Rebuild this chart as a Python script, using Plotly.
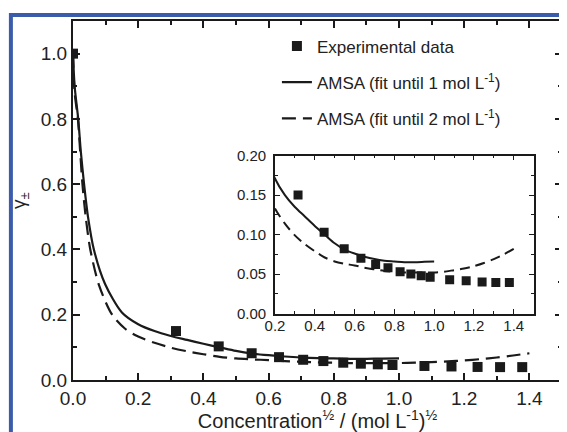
import plotly.graph_objects as go

# Experimental data (x = sqrt(concentration), y = mean activity coefficient)
exp_x = [0.0, 0.316, 0.447, 0.548, 0.632, 0.706, 0.768, 0.829, 0.883, 0.935, 0.980,
         1.078, 1.161, 1.241, 1.310, 1.378]
exp_y = [1.0, 0.150, 0.103, 0.082, 0.070, 0.062, 0.058, 0.053, 0.050, 0.048, 0.046,
         0.043, 0.0415, 0.040, 0.0395, 0.0395]

# AMSA fit until 1 mol/L (solid)
fit1_x = [0.0, 0.005, 0.016, 0.024, 0.034, 0.046, 0.064, 0.098, 0.150, 0.20, 0.25,
          0.30, 0.35, 0.40, 0.45, 0.50, 0.55, 0.60, 0.65, 0.70, 0.75, 0.80, 0.85,
          0.90, 0.95, 1.00]
fit1_y = [1.0, 0.90, 0.80, 0.70, 0.60, 0.50, 0.40, 0.295, 0.207, 0.171, 0.150,
          0.135, 0.123, 0.111, 0.100, 0.089, 0.081, 0.076, 0.072, 0.069, 0.067, 0.066, 0.065,
          0.065, 0.0655, 0.066]

# AMSA fit until 2 mol/L (dashed)
fit2_x = [0.0, 0.005, 0.015, 0.022, 0.029, 0.039, 0.053, 0.080, 0.120, 0.16, 0.20, 0.25,
          0.30, 0.35, 0.40, 0.45, 0.50, 0.55, 0.60, 0.65, 0.70, 0.75, 0.80, 0.85,
          0.90, 0.95, 1.00, 1.05, 1.10, 1.15, 1.20, 1.25, 1.30, 1.35, 1.40]
fit2_y = [1.0, 0.88, 0.80, 0.70, 0.60, 0.50, 0.40, 0.29, 0.200, 0.157, 0.133, 0.114,
          0.099, 0.088, 0.079, 0.071, 0.066, 0.063, 0.061, 0.058, 0.056, 0.054, 0.053, 0.052,
          0.052, 0.052, 0.052, 0.053, 0.055, 0.057, 0.060, 0.064, 0.069, 0.075, 0.082]

INK = "#1a1a1a"
FONT = "Liberation Sans, Arial, sans-serif"

fig = go.Figure()

# main plot
fig.add_trace(go.Scatter(x=exp_x, y=exp_y, mode="markers", name="Experimental data",
                         marker=dict(symbol="square", size=10, color=INK),
                         legendgroup="a"))
fig.add_trace(go.Scatter(x=fit1_x, y=fit1_y, mode="lines",
                         name="AMSA (fit until 1 mol L<sup>-1</sup>)",
                         line=dict(color=INK, width=2.2, shape="spline", smoothing=0.8),
                         legendgroup="b"))
fig.add_trace(go.Scatter(x=fit2_x, y=fit2_y, mode="lines",
                         name="AMSA (fit until 2 mol L<sup>-1</sup>)",
                         line=dict(color=INK, width=2.2, dash="14px,7px", shape="spline",
                                   smoothing=0.8),
                         legendgroup="c"))

# inset
fig.add_trace(go.Scatter(x=exp_x, y=exp_y, mode="markers", showlegend=False,
                         marker=dict(symbol="square", size=9, color=INK),
                         xaxis="x2", yaxis="y2"))
fig.add_trace(go.Scatter(x=fit1_x, y=fit1_y, mode="lines", showlegend=False,
                         line=dict(color=INK, width=2, shape="spline", smoothing=0.8),
                         xaxis="x2", yaxis="y2"))
fig.add_trace(go.Scatter(x=fit2_x, y=fit2_y, mode="lines", showlegend=False,
                         line=dict(color=INK, width=2, dash="10px,6px", shape="spline",
                                   smoothing=0.8),
                         xaxis="x2", yaxis="y2"))

axis_common = dict(showline=True, linecolor=INK, mirror="ticks", ticks="inside",
                   tickcolor=INK, showgrid=False, zeroline=False, automargin=False)

fig.update_layout(
    width=559, height=424,
    margin=dict(l=65, r=5, t=13, b=52),
    paper_bgcolor="white", plot_bgcolor="white",
    font=dict(family=FONT, color="#222"),
    xaxis=dict(**axis_common, range=[0, 1.5], dtick=0.2, tick0=0, tickformat=".1f",
               linewidth=2, ticklen=7, tickwidth=1.5,
               minor=dict(dtick=0.1, ticklen=4, tickwidth=1.5, ticks="inside", tickcolor=INK),
               tickfont=dict(size=19),
               title=dict(text="Concentration<sup>½</sup> / (mol L<sup>-1</sup>)<sup>½</sup>",
                          font=dict(size=20), standoff=2)),
    yaxis=dict(**axis_common, range=[0, 1.1], dtick=0.2, tick0=0, tickformat=".1f",
               linewidth=2, ticklen=7, tickwidth=1.5,
               minor=dict(dtick=0.1, ticklen=4, tickwidth=1.5, ticks="inside", tickcolor=INK),
               tickfont=dict(size=19),
               title=dict(text="γ<sub>±</sub>", font=dict(size=19), standoff=10)),
    xaxis2=dict(**axis_common, domain=[0.413, 0.942], anchor="y2", range=[0.2, 1.5],
                dtick=0.2, tick0=0.2, tickformat=".1f", linewidth=1.5, ticklen=5,
                tickwidth=1.2,
                minor=dict(dtick=0.1, ticklen=3, tickwidth=1.2, ticks="inside", tickcolor=INK),
                tickfont=dict(size=15), ticklabelstandoff=-2),
    yaxis2=dict(**axis_common, domain=[0.185, 0.625], anchor="x2", range=[0, 0.2],
                dtick=0.05, tick0=0, tickformat=".2f", linewidth=1.5, ticklen=5,
                tickwidth=1.2,
                minor=dict(dtick=0.025, ticklen=3, tickwidth=1.2, ticks="inside", tickcolor=INK),
                tickfont=dict(size=15), ticklabelstandoff=4),
    legend=dict(x=0.417, y=0.979, xanchor="left", yanchor="top",
                bgcolor="rgba(0,0,0,0)", font=dict(size=17, color="#222"),
                traceorder="grouped", tracegroupgap=11),
    shapes=[dict(type="rect", xref="paper", yref="paper",
                 x0=-0.127, x1=1.05, y0=-0.3, y1=1.017,
                 line=dict(color="#3b5bab", width=4), layer="below")],
)

fig.write_html("out.html")
